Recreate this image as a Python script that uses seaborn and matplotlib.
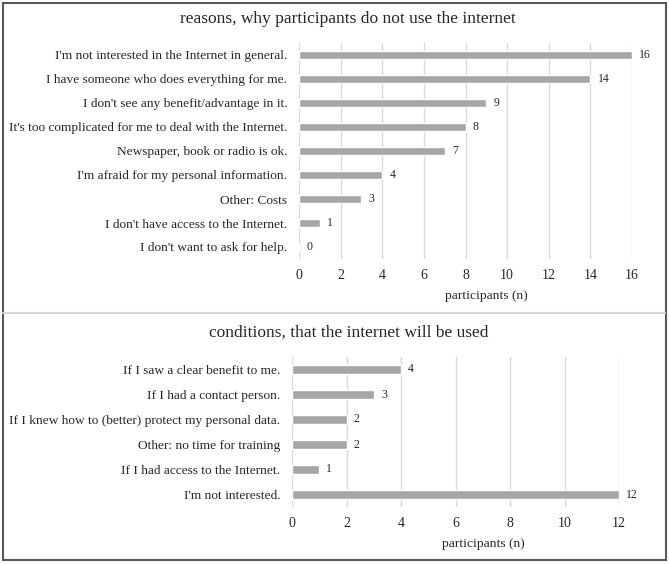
import seaborn as sns
import matplotlib.pyplot as plt
from matplotlib.patches import Rectangle
from matplotlib.lines import Line2D

# data
reasons = ["I'm not interested in the Internet in general.",
           "I have someone who does everything for me.",
           "I don't see any benefit/advantage in it.",
           "It's too complicated for me to deal with the Internet.",
           "Newspaper, book or radio is ok.",
           "I'm afraid for my personal information.",
           "Other: Costs",
           "I don't have access to the Internet.",
           "I don't want to ask for help."]
reason_counts = [16, 14, 9, 8, 7, 4, 3, 1, 0]

conditions = ["If I saw a clear benefit to me.",
              "If I had a contact person.",
              "If I knew how to (better) protect my personal data.",
              "Other: no time for training",
              "If I had access to the Internet.",
              "I'm not interested."]
condition_counts = [4, 3, 2, 2, 1, 12]

top_ticks = list(range(0, 17, 2))
bottom_ticks = list(range(0, 13, 2))

sns.set_style("white")
plt.rcParams['font.family'] = ['Liberation Serif', 'DejaVu Serif']

W, H = 669, 564
fig = plt.figure(figsize=(W / 100, H / 100), dpi=100)
txt = "#262626"

def px_axes(x0, x1, y0, y1):
    return fig.add_axes([x0 / W, 1 - y1 / H, (x1 - x0) / W, (y1 - y0) / H])

def panel(ax, labels, vals, ticks, xmax):
    sns.barplot(x=vals, y=labels, orient="h", color="#a6a6a6", width=0.34,
                saturation=1, ax=ax, zorder=3)
    ax.set_xlim(0, xmax)
    ax.set_xticks(ticks)
    ax.grid(axis="x", color="#d9d9d9", linewidth=1, zorder=0)
    ax.grid(axis="y", visible=False)
    for s in ax.spines.values():
        s.set_visible(False)
    ax.tick_params(axis="y", length=0, labelsize=9.6, colors=txt, pad=8.5)
    ax.tick_params(axis="x", length=0, labelsize=10, colors=txt, pad=7)
    ax.set_ylabel("")
    ax.set_xlabel("")
    for i, v in enumerate(vals):
        ax.text(v + xmax * 0.022, i, str(v), va="center", ha="left",
                fontsize=8.5, color=txt)

ax1 = px_axes(299, 632, 43, 259)
panel(ax1, reasons, reason_counts, top_ticks, 16)

ax2 = px_axes(292, 619, 357, 507)
panel(ax2, conditions, condition_counts, bottom_ticks, 12)

# axis titles placed like the original chart
fig.text(486 / W, 1 - 296 / H, "participants (n)", ha="center", va="center",
         fontsize=9.7, color=txt)
fig.text(483 / W, 1 - 544 / H, "participants (n)", ha="center", va="center",
         fontsize=9.7, color=txt)

fig.text(348 / W, 1 - 19 / H, "reasons, why participants do not use the internet",
         ha="center", va="center", fontsize=12.5, color=txt)
fig.text(349 / W, 1 - 333 / H, "conditions, that the internet will be used",
         ha="center", va="center", fontsize=12.5, color=txt)

# panel borders
fig.patches.append(Rectangle((2.5 / W, 4 / H), 1 - 5.5 / W, 1 - 6.5 / H,
                             transform=fig.transFigure, fill=False,
                             edgecolor="#595959", linewidth=1.5))
fig.lines.append(Line2D([3 / W, 1 - 4 / W], [1 - 313 / H, 1 - 313 / H],
                        transform=fig.transFigure, color="#d6d6d6", linewidth=1.5))

fig.savefig("out.png", dpi=100)
